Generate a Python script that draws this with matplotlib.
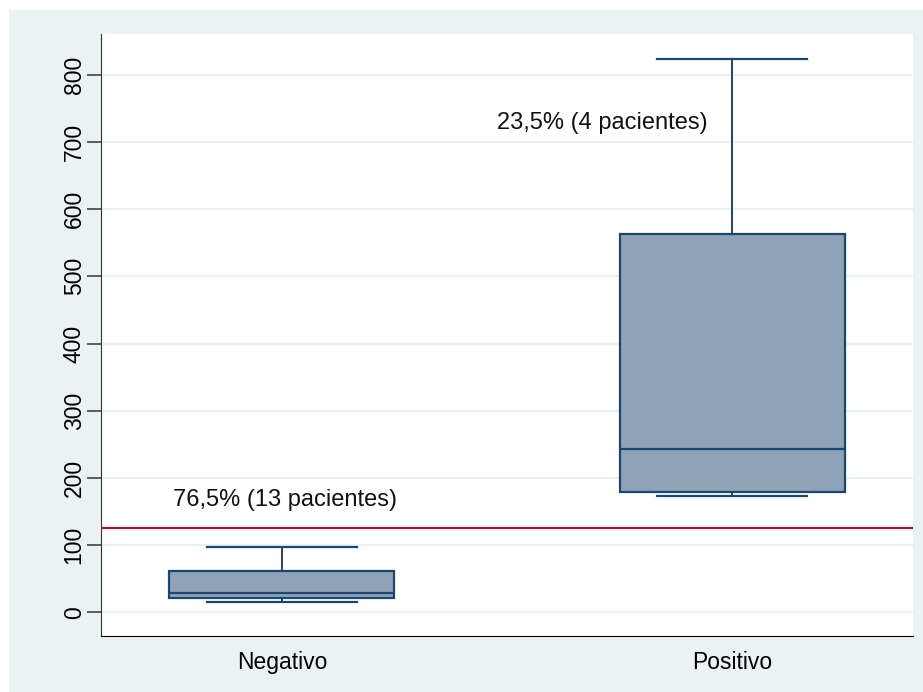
import matplotlib.pyplot as plt
from matplotlib.patches import Rectangle

# Box plot data per group
groups = ['Negativo', 'Positivo']
mins = [15, 173]
q1s = [21, 179]
medians = [28, 243]
q3s = [62, 563]
maxs = [97, 823]

cutoff = 125
notes = ['76,5% (13 pacientes)', '23,5% (4 pacientes)']
note_x = [0.758, 1.478]
note_y = [167, 728]

yticks = [0, 100, 200, 300, 400, 500, 600, 700, 800]

bg = '#EAF2F3'
navy = '#1A476F'
fill = '#8EA3B8'
red = '#C10534'

plt.rcParams['font.family'] = ['Liberation Sans', 'DejaVu Sans']

W, H = 923, 692
fig = plt.figure(figsize=(W / 100, H / 100), dpi=100, facecolor='white')
# light outer region, white strip left and top
fig.patches.append(Rectangle((9 / W, 0), 1 - 9 / W, 1 - 10 / H,
                             transform=fig.transFigure, facecolor=bg,
                             edgecolor='none', zorder=-10))

ax = fig.add_axes([101 / W, (H - 636) / H, (913 - 101) / W, (636 - 34) / H])
ax.set_facecolor('white')

stats = []
for g, lo, a, m, b, hi in zip(groups, mins, q1s, medians, q3s, maxs):
    stats.append(dict(label=g, whislo=lo, q1=a, med=m, q3=b, whishi=hi, fliers=[]))

ax.bxp(stats, positions=[1, 2], widths=0.5, capwidths=0.333,
       patch_artist=True, showfliers=False,
       boxprops=dict(facecolor=fill, edgecolor=navy, linewidth=1.6),
       medianprops=dict(color=navy, linewidth=1.6),
       whiskerprops=dict(color=navy, linewidth=1.4),
       capprops=dict(color=navy, linewidth=1.6))

ax.axhline(cutoff, color=red, linewidth=1.5, zorder=3)

for x, y, t in zip(note_x, note_y, notes):
    ax.text(x, y, t, fontsize=17, color='#111111', va='center', ha='left')

ax.set_xlim(0.598, 2.402)
ax.set_ylim(-35.3, 860.6)
ax.set_yticks(yticks)
ax.set_yticklabels([str(v) for v in yticks], rotation=90, va='center', fontsize=16.5)
ax.set_xticks([1, 2])
ax.set_xticklabels(groups, fontsize=16.5)
ax.tick_params(axis='x', length=0, pad=11)
ax.tick_params(axis='y', length=10, width=1.2, color='#444444', pad=1)
ax.yaxis.grid(True, color=bg, linewidth=1.6)
ax.set_axisbelow(True)

for s in ['top', 'right']:
    ax.spines[s].set_visible(False)
ax.spines['left'].set_color('#333333')
ax.spines['bottom'].set_color('black')

fig.savefig('out.png', dpi=100, facecolor=fig.get_facecolor())
